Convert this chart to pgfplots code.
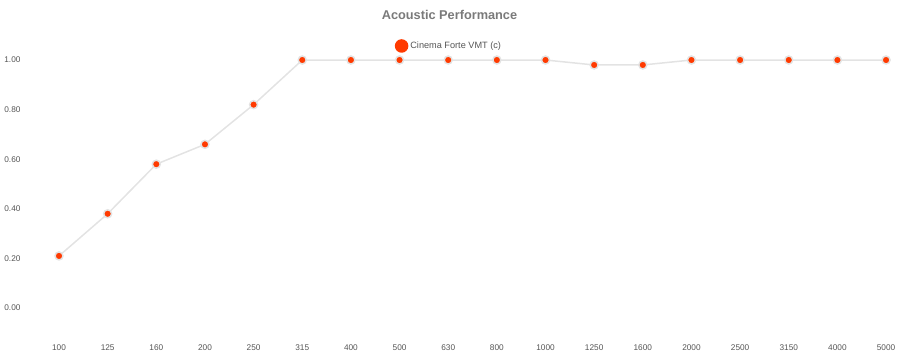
\documentclass[border=0pt]{standalone}
\usepackage{pgfplots}
\pgfplotsset{compat=1.18}
\usepackage{fontspec}
\setmainfont{Liberation Sans}
\definecolor{ptred}{HTML}{FF3A00}
\definecolor{linegray}{HTML}{E3E3E3}
\definecolor{ticktxt}{HTML}{555555}
\definecolor{titletxt}{HTML}{7A7A7A}
\begin{document}
\begin{tikzpicture}
\begin{axis}[
  scale only axis,
  width=899bp, height=359bp,
  xmin=-1.213, xmax=17.266,
  ymin=-0.2056, ymax=1.242,
  axis line style={draw=none},
  clip=false,
  /pgf/number format/assume math mode=true,
  xtick={0,...,17},
  xticklabels={100,125,160,200,250,315,400,500,630,800,1000,1250,1600,2000,2500,3150,4000,5000},
  ytick={0,0.2,0.4,0.6,0.8,1.0},
  yticklabel={\pgfmathprintnumber[fixed,fixed zerofill,precision=2]{\tick}},
  tick label style={font=\fontsize{8.3}{10}\selectfont, text=ticktxt},
  xticklabel style={yshift=18bp},
  yticklabel style={anchor=east, xshift=24bp},
  major tick length=0pt,
  tick style={draw=none},
  legend style={at={(0.4390,0.8719)}, anchor=west, draw=none, fill=none,
    inner sep=0pt, font=\fontsize{9.2}{11}\selectfont, text=ticktxt},
  legend image code/.code={\fill[ptred] (6bp,0bp) circle (6bp);},
]
\addplot[color=linegray, line width=1.5bp, mark=*, mark size=4bp,
  mark options={fill=ptred, draw=none}]
  coordinates {
  (0,0.21) (1,0.38) (2,0.58) (3,0.66) (4,0.82) (5,1.00) (6,1.00) (7,1.00)
  (8,1.00) (9,1.00) (10,1.00) (11,0.98) (12,0.98) (13,1.00) (14,1.00)
  (15,1.00) (16,1.00) (17,1.00)
  };
\addlegendentry{Cinema Forte VMT (c)}
\node[font=\bfseries\fontsize{12.8}{15}\selectfont, text=titletxt] at (rel axis cs:0.5,0.958) {Acoustic Performance};
\end{axis}
\end{tikzpicture}
\end{document}
